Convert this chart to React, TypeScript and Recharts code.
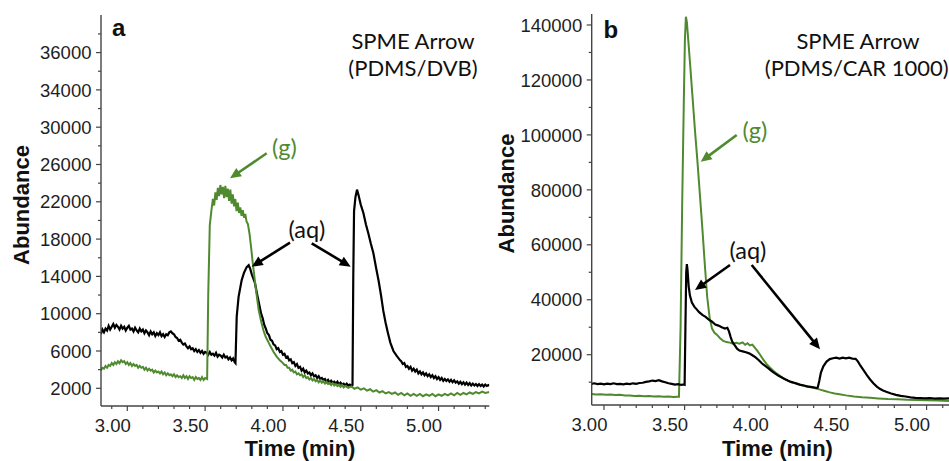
import React from 'react';
import { LineChart, Line, XAxis, YAxis } from 'recharts';

const GREEN = '#4f8a2f';
const BLACK = '#000000';
const AXIS = '#444444';
const FRAME = '#7a7a7a';
const TICK_FONT = '"Liberation Sans", Arial, sans-serif';
const NOTE_FONT = 'Lato, "Open Sans", sans-serif';

// ---------- Panel a (PDMS/DVB) : [time (min), abundance] ----------
const aBlackRaw: [number, number][] = [
  [2.83, 7800], [2.84, 8300], [2.85, 8000], [2.86, 8400], [2.87, 8200], [2.88, 8700], [2.89, 8300],
  [2.9, 8600], [2.91, 8900], [2.92, 8500], [2.93, 8800], [2.94, 8600], [2.95, 8300], [2.96, 8700],
  [2.97, 8400], [2.98, 8600], [2.99, 8200], [3.0, 8500], [3.01, 8700], [3.02, 8300], [3.03, 8400],
  [3.04, 8100], [3.05, 8500], [3.06, 8200], [3.07, 8000], [3.08, 8400], [3.09, 8100], [3.1, 8300],
  [3.11, 7900], [3.12, 8200], [3.13, 8000], [3.14, 7700], [3.15, 8100], [3.16, 7800], [3.17, 8000],
  [3.18, 7600], [3.19, 7900], [3.2, 7700], [3.21, 8000], [3.22, 7600], [3.23, 7800], [3.24, 7500],
  [3.25, 7800], [3.26, 7700], [3.27, 8000], [3.28, 8100], [3.29, 7900], [3.3, 7800], [3.31, 7500],
  [3.32, 7400], [3.33, 7100], [3.34, 7200], [3.35, 6900], [3.36, 6700], [3.37, 6800], [3.38, 6500],
  [3.39, 6300], [3.4, 6500], [3.41, 6200], [3.42, 6300], [3.43, 6000], [3.44, 6200], [3.45, 5900],
  [3.46, 6100], [3.47, 5800], [3.48, 6000], [3.49, 5700], [3.5, 5900], [3.51, 5800], [3.52, 5600],
  [3.53, 5900], [3.54, 5600], [3.55, 5700], [3.56, 5500], [3.57, 5800], [3.58, 5400], [3.59, 5600],
  [3.6, 5500], [3.61, 5300], [3.62, 5600], [3.63, 5300], [3.64, 5400], [3.65, 5100], [3.66, 5300],
  [3.67, 5000], [3.68, 5200], [3.69, 4800], [3.695, 4700], [3.703, 9700], [3.715, 11800], [3.735, 13600],
  [3.75, 14400], [3.767, 15000], [3.78, 15200], [3.79, 14800], [3.8, 14200], [3.82, 13300], [3.835, 12000],
  [3.85, 10800], [3.86, 10000], [3.87, 9500], [3.88, 8800], [3.89, 8400], [3.9, 7900], [3.91, 7700],
  [3.92, 7200], [3.93, 7100], [3.94, 6700], [3.95, 6600], [3.96, 6200], [3.97, 6300], [3.98, 5900],
  [3.99, 6000], [4.0, 5600], [4.01, 5700], [4.02, 5300], [4.03, 5400], [4.04, 5000], [4.05, 5100],
  [4.06, 4700], [4.07, 4800], [4.08, 4400], [4.09, 4600], [4.1, 4200], [4.11, 4300], [4.12, 3900],
  [4.13, 4100], [4.14, 3700], [4.15, 3900], [4.16, 3600], [4.17, 3700], [4.18, 3400], [4.19, 3600],
  [4.2, 3300], [4.21, 3400], [4.22, 3100], [4.23, 3300], [4.24, 3000], [4.25, 3100], [4.26, 2900],
  [4.27, 3000], [4.28, 2700], [4.29, 2900], [4.3, 2600], [4.31, 2800], [4.32, 2600], [4.33, 2700],
  [4.34, 2500], [4.35, 2700], [4.36, 2400], [4.37, 2600], [4.38, 2400], [4.39, 2500], [4.4, 2300],
  [4.41, 2500], [4.42, 2300], [4.43, 2400], [4.44, 2250], [4.447, 2350],
  [4.452, 14000], [4.457, 21000], [4.466, 22500], [4.476, 23300], [4.486, 22700], [4.5, 21700],
  [4.517, 20800], [4.533, 19600], [4.549, 18600], [4.565, 17500], [4.581, 16500], [4.6, 14800],
  [4.615, 13500], [4.63, 12000], [4.645, 10300], [4.66, 9000], [4.675, 7900], [4.69, 6900], [4.71, 6000],
  [4.73, 5500], [4.753, 5000], [4.76, 4900], [4.77, 4600], [4.78, 4700], [4.79, 4300], [4.8, 4400],
  [4.81, 4100], [4.82, 4300], [4.83, 3900], [4.84, 4100], [4.85, 3800], [4.86, 4000], [4.87, 3600],
  [4.88, 3800], [4.89, 3500], [4.9, 3700], [4.91, 3400], [4.92, 3600], [4.93, 3300], [4.94, 3500],
  [4.95, 3200], [4.96, 3400], [4.97, 3100], [4.98, 3300], [4.99, 3000], [5.0, 3200], [5.01, 2900],
  [5.02, 3100], [5.03, 2800], [5.04, 3000], [5.05, 2800], [5.06, 2950], [5.07, 2700], [5.08, 2900],
  [5.09, 2650], [5.1, 2850], [5.11, 2600], [5.12, 2750], [5.13, 2500], [5.14, 2700], [5.15, 2450],
  [5.16, 2650], [5.17, 2400], [5.18, 2600], [5.19, 2350], [5.2, 2550], [5.21, 2300], [5.22, 2500],
  [5.23, 2300], [5.24, 2450], [5.25, 2250], [5.26, 2450], [5.27, 2250], [5.28, 2400], [5.29, 2200],
  [5.3, 2400], [5.31, 2250], [5.32, 2350], [5.326, 2250],
];

const aGreenRaw: [number, number][] = [
  [2.83, 3900], [2.84, 4200], [2.85, 4100], [2.86, 4400], [2.87, 4200], [2.88, 4500], [2.89, 4400],
  [2.9, 4700], [2.91, 4500], [2.92, 4800], [2.93, 4600], [2.94, 4900], [2.95, 4700], [2.96, 5000],
  [2.97, 4800], [2.98, 4900], [2.99, 4600], [3.0, 4800], [3.01, 4500], [3.02, 4700], [3.03, 4400],
  [3.04, 4600], [3.05, 4400], [3.06, 4500], [3.07, 4200], [3.08, 4400], [3.09, 4200], [3.1, 4300],
  [3.11, 4000], [3.12, 4200], [3.13, 3900], [3.14, 4100], [3.15, 3900], [3.16, 4000], [3.17, 3700],
  [3.18, 3900], [3.19, 3700], [3.2, 3800], [3.21, 3600], [3.22, 3800], [3.23, 3500], [3.24, 3700],
  [3.25, 3400], [3.26, 3600], [3.27, 3400], [3.28, 3500], [3.29, 3300], [3.3, 3500], [3.31, 3200],
  [3.32, 3400], [3.33, 3200], [3.34, 3300], [3.35, 3100], [3.36, 3400], [3.37, 3100], [3.38, 3300],
  [3.39, 3000], [3.4, 3300], [3.41, 3100], [3.42, 3200], [3.43, 2900], [3.44, 3200], [3.45, 3000],
  [3.46, 3100], [3.47, 2900], [3.48, 3200], [3.49, 2900], [3.5, 3100], [3.513, 3000], [3.52, 12000],
  [3.53, 19500], [3.54, 21000], [3.55, 22300], [3.558, 21600], [3.566, 23000], [3.574, 22200],
  [3.582, 23500], [3.59, 22600], [3.598, 23800], [3.606, 22800], [3.614, 23600], [3.622, 22400],
  [3.63, 23700], [3.638, 22500], [3.646, 23400], [3.654, 22100], [3.662, 23300], [3.67, 21800],
  [3.678, 22800], [3.686, 21500], [3.694, 22300], [3.702, 21000], [3.71, 21900], [3.718, 20800],
  [3.726, 21400], [3.734, 20500], [3.742, 21100], [3.75, 20300], [3.758, 20700], [3.766, 19900],
  [3.775, 19600], [3.785, 18600], [3.795, 17200], [3.805, 15600], [3.815, 14200], [3.825, 12800],
  [3.835, 11500], [3.845, 10300], [3.86, 9200], [3.875, 8200], [3.89, 7500], [3.905, 7000], [3.92, 6500],
  [3.94, 5900], [3.96, 5400], [3.98, 5000], [4.0, 4700], [4.01, 4500], [4.02, 4500], [4.03, 4200],
  [4.04, 4200], [4.05, 3900], [4.06, 4000], [4.07, 3700], [4.08, 3800], [4.09, 3500], [4.1, 3600],
  [4.11, 3400], [4.12, 3500], [4.13, 3200], [4.14, 3400], [4.15, 3100], [4.16, 3200], [4.17, 2950],
  [4.18, 3100], [4.19, 2850], [4.2, 3000], [4.21, 2750], [4.22, 2900], [4.23, 2650], [4.24, 2850],
  [4.25, 2600], [4.26, 2750], [4.27, 2500], [4.28, 2700], [4.29, 2450], [4.3, 2600], [4.31, 2350],
  [4.32, 2550], [4.33, 2300], [4.34, 2450], [4.35, 2250], [4.36, 2400], [4.37, 2150], [4.38, 2350],
  [4.39, 2100], [4.4, 2250], [4.42, 2050], [4.44, 2200], [4.46, 1950], [4.48, 2100], [4.5, 1850],
  [4.52, 2000], [4.54, 1750], [4.56, 1900], [4.58, 1650], [4.6, 1800], [4.62, 1550], [4.64, 1700],
  [4.66, 1450], [4.68, 1600], [4.7, 1400], [4.72, 1550], [4.74, 1300], [4.76, 1500], [4.78, 1250],
  [4.8, 1450], [4.82, 1200], [4.84, 1400], [4.86, 1200], [4.88, 1400], [4.9, 1150], [4.92, 1350],
  [4.94, 1200], [4.96, 1400], [4.98, 1150], [5.0, 1350], [5.02, 1200], [5.04, 1400], [5.06, 1250],
  [5.08, 1450], [5.1, 1250], [5.12, 1500], [5.14, 1300], [5.16, 1500], [5.18, 1350], [5.2, 1550],
  [5.22, 1400], [5.24, 1600], [5.26, 1450], [5.28, 1650], [5.3, 1500], [5.326, 1600],
];

// ---------- Panel b (PDMS/CAR 1000) ----------
const bBlackRaw: [number, number][] = [
  [2.924, 9400], [2.94, 9600], [2.96, 9300], [2.98, 9500], [3.0, 9200], [3.02, 9500], [3.04, 9300],
  [3.06, 9600], [3.08, 9300], [3.1, 9400], [3.12, 9200], [3.14, 9500], [3.16, 9300], [3.18, 9600],
  [3.2, 9400], [3.22, 9700], [3.24, 9800], [3.26, 10100], [3.28, 10300], [3.3, 10600], [3.32, 10400],
  [3.34, 10700], [3.36, 10300], [3.38, 10000], [3.4, 9600], [3.42, 9400], [3.44, 9100], [3.46, 9300],
  [3.48, 9000], [3.495, 9200], [3.5, 9100], [3.505, 30000], [3.51, 50000], [3.514, 53000],
  [3.518, 51000], [3.525, 45000], [3.533, 41500], [3.545, 39000], [3.56, 37500], [3.575, 36500],
  [3.59, 35500], [3.61, 34500], [3.63, 33800], [3.65, 32800], [3.67, 32000], [3.69, 31000],
  [3.71, 30600], [3.73, 30000], [3.75, 29500], [3.765, 29800], [3.775, 28500], [3.785, 26500],
  [3.795, 24800], [3.81, 23500], [3.825, 22200], [3.84, 21500], [3.86, 21200], [3.88, 20900],
  [3.9, 20500], [3.92, 19800], [3.94, 19000], [3.96, 18000], [3.98, 16800], [4.0, 15900], [4.02, 15000],
  [4.04, 14000], [4.06, 13200], [4.08, 12400], [4.1, 11800], [4.12, 11200], [4.14, 10600],
  [4.16, 10100], [4.18, 9800], [4.2, 9400], [4.22, 9000], [4.24, 8800], [4.26, 8500], [4.28, 8300],
  [4.3, 8100], [4.32, 7900], [4.325, 8000], [4.335, 10500], [4.345, 13500], [4.36, 15800],
  [4.38, 17500], [4.4, 18400], [4.42, 18700], [4.44, 18900], [4.46, 18600], [4.48, 18900],
  [4.5, 18700], [4.52, 18900], [4.54, 18600], [4.56, 18500], [4.575, 17500], [4.59, 16000],
  [4.61, 14300], [4.63, 12600], [4.65, 11000], [4.67, 9600], [4.69, 8500], [4.71, 7600], [4.73, 7000],
  [4.75, 6500], [4.78, 5900], [4.81, 5400], [4.84, 5000], [4.87, 4800], [4.9, 4500], [4.93, 4300],
  [4.96, 4200], [4.99, 4100], [5.02, 4200], [5.05, 4000], [5.08, 4100], [5.11, 4000], [5.139, 4100],
];

const bGreenRaw: [number, number][] = [
  [2.924, 5700], [2.95, 5500], [2.98, 5600], [3.01, 5400], [3.04, 5500], [3.07, 5300], [3.1, 5400],
  [3.13, 5200], [3.16, 5200], [3.19, 5000], [3.22, 5100], [3.25, 4900], [3.28, 5000], [3.31, 4800],
  [3.34, 4900], [3.37, 4700], [3.4, 4800], [3.43, 4600], [3.455, 4700], [3.465, 4700], [3.475, 30000],
  [3.485, 75000], [3.495, 112000], [3.502, 135000], [3.508, 143000], [3.514, 141000], [3.522, 135000],
  [3.535, 125000], [3.55, 113000], [3.565, 101000], [3.58, 90000], [3.595, 78000], [3.61, 66000],
  [3.625, 53000], [3.64, 41000], [3.655, 33500], [3.67, 29500], [3.685, 28000], [3.7, 27300],
  [3.72, 26000], [3.74, 25000], [3.76, 24600], [3.78, 24400], [3.8, 24000], [3.82, 24300],
  [3.84, 24000], [3.86, 24500], [3.875, 23600], [3.89, 24200], [3.905, 23400], [3.92, 23700],
  [3.935, 22600], [3.95, 21500], [3.97, 19800], [3.99, 18000], [4.01, 16500], [4.03, 15300],
  [4.05, 14200], [4.07, 13200], [4.09, 12300], [4.11, 11500], [4.13, 10800], [4.15, 10200],
  [4.17, 9800], [4.19, 9500], [4.22, 9000], [4.25, 8500], [4.28, 8200], [4.31, 7800], [4.34, 7300],
  [4.37, 6800], [4.4, 6300], [4.43, 5900], [4.46, 5600], [4.5, 5200], [4.55, 4800], [4.6, 4500],
  [4.65, 4300], [4.7, 4100], [4.76, 3900], [4.82, 3800], [4.88, 3600], [4.94, 3500], [5.0, 3400],
  [5.07, 3300], [5.139, 3200],
];

// ---------- Axes ----------
const aXDomain: [number, number] = [2.831, 5.326];
const aYDomain: [number, number] = [102, 42030];
const bXDomain: [number, number] = [2.924, 5.139];
const bYDomain: [number, number] = [1700, 144000];

const xMajor = [3.0, 3.5, 4.0, 4.5, 5.0];
const xLabels = ['3.00', '3.50', '4.00', '4.50', '5.00'];
const aXMinor = [2.9, 3.1, 3.2, 3.3, 3.4, 3.6, 3.7, 3.8, 3.9, 4.1, 4.2, 4.3, 4.4, 4.6, 4.7, 4.8, 4.9, 5.1, 5.2, 5.3];
const bXMinor = [3.1, 3.2, 3.3, 3.4, 3.6, 3.7, 3.8, 3.9, 4.1, 4.2, 4.3, 4.4, 4.6, 4.7, 4.8, 4.9, 5.1];

const aYMajor = [2000, 6000, 10000, 14000, 18000, 22000, 26000, 30000, 34000, 38000];
const aYLabels = ['2000', '6000', '10000', '14000', '18000', '22000', '26000', '30000', '34000', '36000'];
const aYMinor = [4000, 8000, 12000, 16000, 20000, 24000, 28000, 32000, 36000, 40000];

const bYMajor = [20000, 40000, 60000, 80000, 100000, 120000, 140000];
const bYLabels = ['20000', '40000', '60000', '80000', '100000', '120000', '140000'];
const bYMinor = [10000, 30000, 50000, 70000, 90000, 110000, 130000];

const toPts = (arr: [number, number][]) => arr.map(([t, v]) => ({ t, v }));
const aBlack = toPts(aBlackRaw);
const aGreen = toPts(aGreenRaw);
const bBlack = toPts(bBlackRaw);
const bGreen = toPts(bGreenRaw);

const findIdx = (arr: number[], v: number) => arr.findIndex((m) => Math.abs(m - v) < 1e-6);

const XTick = (props: any) => {
  const { x, y, payload, majors, labels, shift } = props;
  const i = findIdx(majors, payload.value);
  return (
    <g>
      <line x1={x} x2={x} y1={y} y2={y + (i >= 0 ? 5 : 3)} stroke={AXIS} strokeWidth={1.2} />
      {i >= 0 && (
        <text x={x + shift} y={y + 25.7} textAnchor="middle" fontSize={18.5} fill="#1e1e1e" fontFamily={TICK_FONT}>
          {labels[i]}
        </text>
      )}
    </g>
  );
};

const YTick = (props: any) => {
  const { x, y, payload, majors, labels } = props;
  const i = findIdx(majors, payload.value);
  return (
    <g>
      <line x1={x} x2={x - (i >= 0 ? 5 : 3)} y1={y} y2={y} stroke={AXIS} strokeWidth={1.2} />
      {i >= 0 && (
        <text x={x - 9.5} y={y} dy="0.36em" textAnchor="end" fontSize={18.5} fill="#1e1e1e" fontFamily={TICK_FONT}>
          {labels[i]}
        </text>
      )}
    </g>
  );
};

const VTitle = (props: any) => (
  <text
    x={props.tx}
    y={props.ty}
    transform={`rotate(-90 ${props.tx} ${props.ty})`}
    textAnchor="middle"
    dy="0.36em"
    fontWeight="bold"
    fontSize={22}
    fill="#111"
    fontFamily={TICK_FONT}
  >
    Abundance
  </text>
);

const HTitle = (props: any) => (
  <text x={props.tx} y={props.ty} textAnchor="middle" fontWeight="bold" fontSize={22} fill="#111" fontFamily={TICK_FONT}>
    Time (min)
  </text>
);

const Arrow = ({ x1, y1, x2, y2, color }: any) => {
  const dx = x2 - x1;
  const dy = y2 - y1;
  const L = Math.hypot(dx, dy);
  const ux = dx / L;
  const uy = dy / L;
  const hl = 11;
  const hw = 5;
  const bx = x2 - ux * hl;
  const by = y2 - uy * hl;
  return (
    <g>
      <line x1={x1} y1={y1} x2={bx + ux * 2} y2={by + uy * 2} stroke={color} strokeWidth={2.6} />
      <polygon points={`${x2},${y2} ${bx - uy * hw},${by + ux * hw} ${bx + uy * hw},${by - ux * hw}`} fill={color} />
    </g>
  );
};

const Panel = (p: any) => (
  <LineChart width={p.width} height={461} margin={{ top: p.top, right: p.right, bottom: 0, left: 0 }}>
    <XAxis
      xAxisId="b"
      dataKey="t"
      type="number"
      domain={p.xDomain}
      allowDataOverflow
      ticks={[...xMajor, ...p.xMinor]}
      interval={0}
      tickSize={0}
      tickMargin={0}
      tickLine={false}
      tick={<XTick majors={xMajor} labels={xLabels} shift={-14.5} />}
      height={p.xh}
      axisLine={{ stroke: AXIS, strokeWidth: 1.4 }}
      label={<HTitle tx={p.htx} ty={456} />}
    />
    <XAxis
      xAxisId="top"
      orientation="top"
      dataKey="t"
      type="number"
      domain={p.xDomain}
      allowDataOverflow
      height={0}
      tick={false}
      tickLine={false}
      axisLine={{ stroke: FRAME, strokeWidth: 1.3 }}
    />
    <YAxis
      yAxisId="l"
      dataKey="v"
      type="number"
      domain={p.yDomain}
      allowDataOverflow
      ticks={[...p.yMajor, ...p.yMinor]}
      interval={0}
      tickSize={0}
      tickMargin={0}
      tickLine={false}
      tick={<YTick majors={p.yMajor} labels={p.yLabels} />}
      width={p.yw}
      axisLine={{ stroke: AXIS, strokeWidth: 1.4 }}
      label={<VTitle tx={p.vtx} ty={p.vty} />}
    />
    {p.rightFrame && (
      <YAxis
        yAxisId="r"
        orientation="right"
        type="number"
        domain={p.yDomain}
        allowDataOverflow
        width={0}
        tick={false}
        tickLine={false}
        axisLine={{ stroke: FRAME, strokeWidth: 1.3 }}
      />
    )}
    {p.series.map((s: any, k: number) => (
      <Line
        key={k}
        xAxisId="b"
        yAxisId="l"
        data={s.data}
        dataKey="v"
        type="linear"
        stroke={s.color}
        strokeWidth={s.w}
        dot={false}
        activeDot={false}
        isAnimationActive={false}
      />
    ))}
  </LineChart>
);

export default function App() {
  return (
    <div style={{ position: 'absolute', left: 0, top: 0, width: 949, height: 461, background: '#fff', overflow: 'hidden' }}>
      <div style={{ position: 'absolute', left: 0, top: 0 }}>
        <Panel
          width={495}
          top={15}
          right={5.7}
          xh={55}
          yw={101}
          xDomain={aXDomain}
          yDomain={aYDomain}
          xMinor={aXMinor}
          yMajor={aYMajor}
          yLabels={aYLabels}
          yMinor={aYMinor}
          htx={300}
          vtx={21.5}
          vty={205}
          rightFrame
          series={[
            { data: aBlack, color: BLACK, w: 2.2 },
            { data: aGreen, color: GREEN, w: 2 },
          ]}
        />
      </div>
      <div style={{ position: 'absolute', left: 495, top: 0 }}>
        <Panel
          width={454}
          top={14}
          right={0}
          xh={56}
          yw={96.7}
          xDomain={bXDomain}
          yDomain={bYDomain}
          xMinor={bXMinor}
          yMajor={bYMajor}
          yLabels={bYLabels}
          yMinor={bYMinor}
          htx={282.5}
          vtx={11}
          vty={193.5}
          rightFrame={false}
          series={[
            { data: bGreen, color: GREEN, w: 2 },
            { data: bBlack, color: BLACK, w: 2.2 },
          ]}
        />
      </div>
      <svg width={949} height={461} style={{ position: 'absolute', left: 0, top: 0, pointerEvents: 'none' }}>
        {/* panel a annotations */}
        <text x={112} y={35.5} fontSize={24} fontWeight="bold" fontFamily={TICK_FONT} fill="#111">a</text>
        <text x={413} y={48.5} textAnchor="middle" fontSize={22} fontFamily={NOTE_FONT} fill="#111">SPME Arrow</text>
        <text x={413} y={76.4} textAnchor="middle" fontSize={22} fontFamily={NOTE_FONT} fill="#111">(PDMS/DVB)</text>
        <text x={272} y={156} fontSize={23.5} fontFamily={NOTE_FONT} fill={GREEN}>(g)</text>
        <Arrow x1={266.7} y1={153.3} x2={230} y2={178.3} color={GREEN} />
        <text x={288.5} y={237.7} fontSize={23.5} fontFamily={NOTE_FONT} fill="#111">(aq)</text>
        <Arrow x1={290} y1={242.7} x2={251.7} y2={266.7} color="#000" />
        <Arrow x1={311.7} y1={243.3} x2={350.7} y2={266.7} color="#000" />
        {/* panel b annotations */}
        <text x={603.5} y={38} fontSize={24} fontWeight="bold" fontFamily={TICK_FONT} fill="#111">b</text>
        <text x={858} y={48.5} textAnchor="middle" fontSize={22} fontFamily={NOTE_FONT} fill="#111">SPME Arrow</text>
        <text x={856.7} y={76.4} textAnchor="middle" fontSize={22} fontFamily={NOTE_FONT} fill="#111">(PDMS/CAR 1000)</text>
        <text x={742.5} y={139.3} fontSize={23.5} fontFamily={NOTE_FONT} fill={GREEN}>(g)</text>
        <Arrow x1={736.7} y1={135} x2={700.7} y2={161.7} color={GREEN} />
        <text x={729.5} y={259.3} fontSize={23.5} fontFamily={NOTE_FONT} fill="#111">(aq)</text>
        <Arrow x1={730} y1={265} x2={695} y2={290} color="#000" />
        <Arrow x1={751.7} y1={265} x2={820} y2={349.3} color="#000" />
      </svg>
    </div>
  );
}
